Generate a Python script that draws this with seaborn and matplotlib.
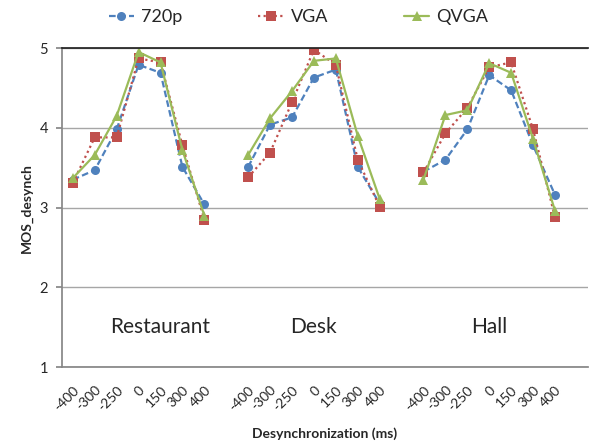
import numpy as np
import pandas as pd
import seaborn as sns
import matplotlib.pyplot as plt

# Data
delays = ['-400', '-300', '-250', '0', '150', '300', '400']
rooms = ['Restaurant', 'Desk', 'Hall']
series = ['720p', 'VGA', 'QVGA']

mos_720p = [3.35, 3.47, 3.98, 4.79, 4.69, 3.51, 3.04,
            3.51, 4.04, 4.13, 4.63, 4.73, 3.51, 3.05,
            3.45, 3.60, 3.98, 4.66, 4.47, 3.78, 3.16]
mos_vga = [3.31, 3.88, 3.88, 4.87, 4.82, 3.78, 2.85,
           3.38, 3.69, 4.32, 4.98, 4.79, 3.60, 3.01,
           3.44, 3.93, 4.25, 4.76, 4.82, 3.98, 2.88]
mos_qvga = [3.37, 3.66, 4.15, 4.95, 4.82, 3.72, 2.90,
            3.66, 4.12, 4.46, 4.84, 4.87, 3.90, 3.11,
            3.35, 4.16, 4.22, 4.81, 4.69, 3.86, 2.96]

# categorical positions: 7 delays per room, one empty slot after each room
n = len(delays)
pos = [g * (n + 1) + i for g in range(len(rooms)) for i in range(n)]
room_col = [r for r in rooms for _ in range(n)]

rows = []
for name, vals in zip(series, [mos_720p, mos_vga, mos_qvga]):
    for p, r, v in zip(pos, room_col, vals):
        rows.append({'pos': p, 'room': r, 'series': name, 'mos': v})
df = pd.DataFrame(rows)

sns.set_theme(style='white')
plt.rcParams['font.family'] = ['Lato', 'DejaVu Sans']

palette = {'720p': '#4F81BD', 'VGA': '#C0504D', 'QVGA': '#9BBB59'}
markers = {'720p': 'o', 'VGA': 's', 'QVGA': '^'}
dashes = {'720p': (3, 1.5), 'VGA': (1, 1.5), 'QVGA': ''}

fig = plt.figure(figsize=(5.95, 4.45), dpi=100)
ax = fig.add_axes([0.104, 0.175, 0.884, 0.717])

sns.lineplot(data=df, x='pos', y='mos', hue='series', style='series',
             units='room', estimator=None, palette=palette, markers=markers,
             dashes=dashes, hue_order=series, style_order=series,
             linewidth=1.6, markersize=6.5, markeredgewidth=0, ax=ax)

ax.set_xlim(-0.5, 3 * (n + 1) - 0.5)
ax.set_ylim(1, 5)
ax.set_yticks([1, 2, 3, 4, 5])
ax.set_yticklabels(['1', '2', '3', '4', '5'], fontsize=10.5)
ticks = list(range(3 * (n + 1)))
labels = []
for g in range(len(rooms)):
    labels += delays + ['']
ax.set_xticks(ticks)
ax.set_xticklabels(labels, rotation=45, ha='right', rotation_mode='anchor', fontsize=10)

ax.grid(axis='y', color='#a6a6a6', linewidth=1)
ax.set_axisbelow(True)
for s in ['left', 'bottom']:
    ax.spines[s].set_color('#868686')
ax.spines['top'].set_color('#222222')
ax.spines['right'].set_visible(False)
ax.tick_params(axis='x', direction='in', length=4, color='#868686', pad=12)
ax.tick_params(axis='y', direction='out', length=4, color='#868686', left=True, pad=6)

for g, room in enumerate(rooms):
    cx = g * (n + 1) + (4 if g == 0 else 3)
    ax.text(cx, 1.5, room, ha='center', va='center', fontsize=15)

ax.set_xlabel('Desynchronization (ms)', fontsize=10, fontweight='bold', labelpad=10)
ax.set_ylabel('MOS_desynch', fontsize=10, fontweight='bold', labelpad=5)

ax.legend(loc='lower center', bbox_to_anchor=(0.45, 1.02), ncol=3, frameon=False,
          fontsize=13, handlelength=1.4, handletextpad=0.4, columnspacing=4.2)

fig.savefig('out.png', dpi=100)
